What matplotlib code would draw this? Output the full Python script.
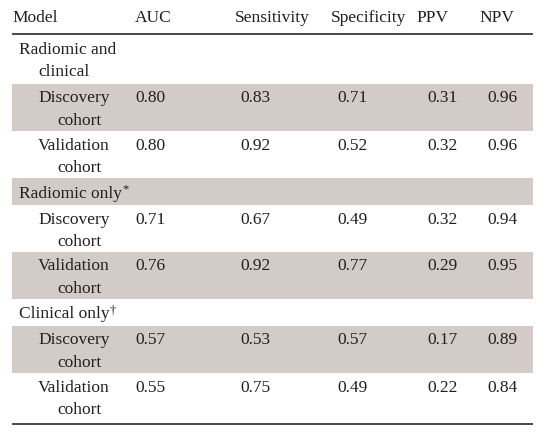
import matplotlib

matplotlib.use("Agg")

import matplotlib.pyplot as plt
from matplotlib.patches import Rectangle

# table content
columns = ["Model", "AUC", "Sensitivity", "Specificity", "PPV", "NPV"]
groups = ["Radiomic and\nclinical", "Radiomic only", "Clinical only"]
group_marks = ["", "*", "\u2020"]
cohorts = ["Discovery\ncohort", "Validation\ncohort"]
auc = [[0.80, 0.80], [0.71, 0.76], [0.57, 0.55]]
sensitivity = [[0.83, 0.92], [0.67, 0.92], [0.53, 0.75]]
specificity = [[0.71, 0.52], [0.49, 0.77], [0.57, 0.49]]
ppv = [[0.31, 0.32], [0.32, 0.29], [0.17, 0.22]]
npv = [[0.96, 0.96], [0.94, 0.95], [0.89, 0.84]]

W, H = 542, 432
fig = plt.figure(figsize=(W / 100, H / 100), dpi=100)
ax = fig.add_axes([0, 0, 1, 1])
ax.set_xlim(0, W)
ax.set_ylim(H, 0)
ax.axis("off")

font = dict(family=["Liberation Serif", "DejaVu Serif"], fontsize=12.5, color="#231f20")
shade = "#d3cbc7"
left, right = 12, 533
header_x = [12, 135, 235, 331, 416, 479]
value_x = [135, 240, 337, 427, 487]
line_h = 22.5

ax.plot([left, right], [33.5, 33.5], color="#3a3a3a", lw=1.3, solid_capstyle="butt")
for x, name in zip(header_x, columns):
    ax.text(x, 17.5, name, ha="left", va="center", **font)

y = 34
row_idx = 0
metrics = [auc, sensitivity, specificity, ppv, npv]
for g, group in enumerate(groups):
    n = group.count("\n") + 1
    h = 27 if n == 1 else 50
    if row_idx % 2 == 1:
        ax.add_patch(Rectangle((left, y), right - left, h, color=shade, lw=0))
    lines = group.split("\n")
    for k, ln in enumerate(lines):
        t = ax.text(19 if k == 0 else 38, y + 15.5 + k * line_h, ln, ha="left", va="center", **font)
    if group_marks[g]:
        # superscript footnote mark
        ax.annotate(group_marks[g], xy=(1, 1.12), xycoords=t, xytext=(0.3, 0),
                    textcoords="offset points", ha="left", va="top",
                    fontfamily=font["family"], fontsize=9, color=font["color"])
    y += h
    row_idx += 1
    for c, cohort in enumerate(cohorts):
        h = 47
        if row_idx % 2 == 1:
            ax.add_patch(Rectangle((left, y), right - left, h, color=shade, lw=0))
        first, second = cohort.split("\n")
        ax.text(38, y + 14.5, first, ha="left", va="center", **font)
        ax.text(57, y + 14.5 + line_h, second, ha="left", va="center", **font)
        for x, m in zip(value_x, metrics):
            ax.text(x, y + 14.5, f"{m[g][c]:.2f}", ha="left", va="center", **font)
        y += h
        row_idx += 1

ax.plot([left, right], [y + 4, y + 4], color="#3a3a3a", lw=1.3, solid_capstyle="butt")

fig.savefig("out.png", dpi=100)
